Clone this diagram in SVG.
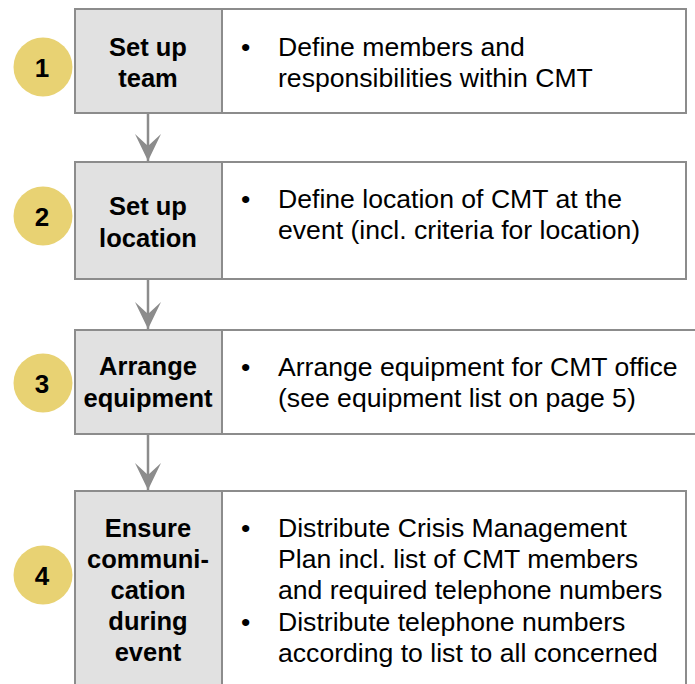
<svg xmlns="http://www.w3.org/2000/svg" width="695" height="684" viewBox="0 0 695 684">
<defs>
<style>
.lbox{fill:#e1e1e1;stroke:#8c8c8c;stroke-width:2}
.rbox{fill:#ffffff;stroke:#8c8c8c;stroke-width:2}
.circ{fill:#e8d273}
.num{font-family:"Liberation Sans",Arial,sans-serif;font-weight:bold;font-size:26px;fill:#000;text-anchor:middle}
.ttl{font-family:"Liberation Sans",Arial,sans-serif;font-weight:bold;font-size:25.5px;fill:#000;text-anchor:middle}
.txt{font-family:"Liberation Sans",Arial,sans-serif;font-size:26.6px;fill:#000}
.conn{stroke:#8c8c8c;stroke-width:2.5;fill:none}
</style>
<marker id="arr" viewBox="0 0 27 26" refX="27" refY="13" markerWidth="27" markerHeight="26" markerUnits="userSpaceOnUse" orient="auto">
<path d="M0,0 L27,13 L0,26 L12,13 Z" fill="#8c8c8c"/>
</marker>
</defs>
<rect width="695" height="684" fill="#ffffff"/>
<g id="connectors">
<line class="conn" x1="148" y1="113" x2="148" y2="161" marker-end="url(#arr)"/>
<line class="conn" x1="148" y1="279" x2="148" y2="329" marker-end="url(#arr)"/>
<line class="conn" x1="148" y1="434" x2="148" y2="490" marker-end="url(#arr)"/>
</g>
<g id="step1">
<rect class="lbox" x="75" y="9" width="147" height="104"/>
<rect class="rbox" x="222" y="9" width="464" height="104"/>
<circle class="circ" cx="43" cy="67" r="29.5"/>
<text class="num" x="42" y="77">1</text>
<text class="ttl" x="148" y="56">Set up</text>
<text class="ttl" x="148" y="87">team</text>
<text class="txt" x="241" y="56">•</text>
<text class="txt" x="278" y="56">Define members and</text>
<text class="txt" x="278" y="87">responsibilities within CMT</text>
</g>
<g id="step2">
<rect class="lbox" x="75" y="162" width="147" height="117"/>
<rect class="rbox" x="222" y="162" width="464" height="117"/>
<circle class="circ" cx="43" cy="216" r="29.5"/>
<text class="num" x="42" y="226">2</text>
<text class="ttl" x="148" y="215">Set up</text>
<text class="ttl" x="148" y="247">location</text>
<text class="txt" x="241" y="208">•</text>
<text class="txt" x="278" y="208">Define location of CMT at the</text>
<text class="txt" x="278" y="239">event (incl. criteria for location)</text>
</g>
<g id="step3">
<rect class="lbox" x="75" y="330" width="147" height="104"/>
<rect class="rbox" x="222" y="330" width="480" height="104"/>
<circle class="circ" cx="43" cy="383" r="29.5"/>
<text class="num" x="42" y="393">3</text>
<text class="ttl" x="148" y="375">Arrange</text>
<text class="ttl" x="148" y="407">equipment</text>
<text class="txt" x="241" y="376">•</text>
<text class="txt" x="278" y="376">Arrange equipment for CMT office</text>
<text class="txt" x="278" y="407">(see equipment list on page 5)</text>
</g>
<g id="step4">
<rect class="lbox" x="75" y="491" width="147" height="200"/>
<rect class="rbox" x="222" y="491" width="464" height="200"/>
<circle class="circ" cx="43" cy="575" r="29.5"/>
<text class="num" x="42" y="585">4</text>
<text class="ttl" x="148" y="537">Ensure</text>
<text class="ttl" x="148" y="568">communi-</text>
<text class="ttl" x="148" y="599">cation</text>
<text class="ttl" x="148" y="630">during</text>
<text class="ttl" x="148" y="661">event</text>
<text class="txt" x="241" y="537">•</text>
<text class="txt" x="278" y="537">Distribute Crisis Management</text>
<text class="txt" x="278" y="568">Plan incl. list of CMT members</text>
<text class="txt" x="278" y="599">and required telephone numbers</text>
<text class="txt" x="241" y="631">•</text>
<text class="txt" x="278" y="631">Distribute telephone numbers</text>
<text class="txt" x="278" y="662">according to list to all concerned</text>
</g>
</svg>
